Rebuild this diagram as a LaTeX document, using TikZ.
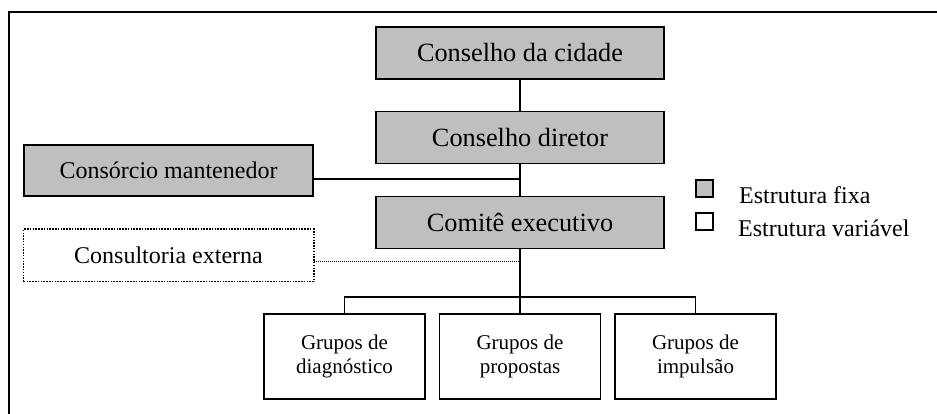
\documentclass[tikz,border=0pt]{standalone}
\usepackage{fontspec}
\setmainfont{Liberation Serif}
\tikzset{ fixo/.style = { rectangle % estrutura fixa
        , draw
        , line width = 1.3pt
        , fill = gray!50
        , minimum width = 288pt
        , minimum height = 52pt
        , font = \fontsize{26.3}{30}\selectfont
        }
        , lateral/.style = { rectangle % caixas laterais
        , draw
        , line width = 1.3pt
        , minimum width = 289pt
        , minimum height = 51pt
        , font = \fontsize{24}{28}\selectfont
        }
        , grupo/.style = { rectangle % estrutura variavel
        , draw
        , line width = 1.3pt
        , minimum width = 161pt
        , minimum height = 85pt
        , align = center
        , font = \fontsize{21}{23.5}\selectfont
        }
        }

\begin{document}
\begin{tikzpicture}[x=1pt, y=1pt,
        edge_style/.style={draw=black, line width=1.3pt},
        dot_style/.style={draw=black, line width=1pt, dash pattern=on 1pt off 1pt},
        legend_box/.style={rectangle, draw, line width=1.3pt, minimum size=17pt, inner sep=0pt},
        legend_text/.style={anchor=base west, inner sep=0pt, font=\fontsize{24}{28}\selectfont}]
        \useasboundingbox (0,0) rectangle (937,414);
        \draw [line width=2pt] (9,0) -- (9,402) -- (937,402);

        \node [fixo](cidade) at (520,361) {Conselho da cidade};
        \node [fixo](diretor) at (520,276.5) {Conselho diretor};
        \node [fixo](comite) at (520,191.5) {Comitê executivo};
        \node [lateral,fill=gray!50](consorcio) at (168.5,243.5) {Consórcio mantenedor};
        \node [lateral,draw=none](consultoria) at (168.5,158.5) {Consultoria externa};
        \draw [line width=1.7pt, dash pattern=on 1.5pt off 1.3pt] (consultoria.south west) rectangle (consultoria.north east);
        \node [grupo](diag) at (344.5,57.5) {Grupos de\\diagnóstico};
        \node [grupo](prop) at (520,57.5) {Grupos de\\propostas};
        \node [grupo](impu) at (695.5,57.5) {Grupos de\\impulsão};

        \coordinate (jc) at (520,235);
        \coordinate (jd) at (520,152);
        \coordinate (bus) at (520,117);

        \draw [edge_style] (cidade) -- (diretor);
        \draw [edge_style] (diretor) -- (comite);
        \draw [edge_style] (comite) -- (prop);
        \draw [edge_style] (consorcio.east |- jc) -- (jc);
        \draw [dot_style] (consultoria.east |- jd) -- (jd);
        \draw [edge_style] (diag.north) -- (diag.north |- bus) -- (impu.north |- bus) -- (impu.north);

        \node [legend_box,fill=gray!50](lfixa) at (704.5,225.5) {};
        \node [legend_box](lvar) at (704.5,192.5) {};
        \node [legend_text](tfixa) at (739,210) {Estrutura fixa};
        \node [legend_text](tvar) at (738,177) {Estrutura variável};
\end{tikzpicture}
\end{document}
